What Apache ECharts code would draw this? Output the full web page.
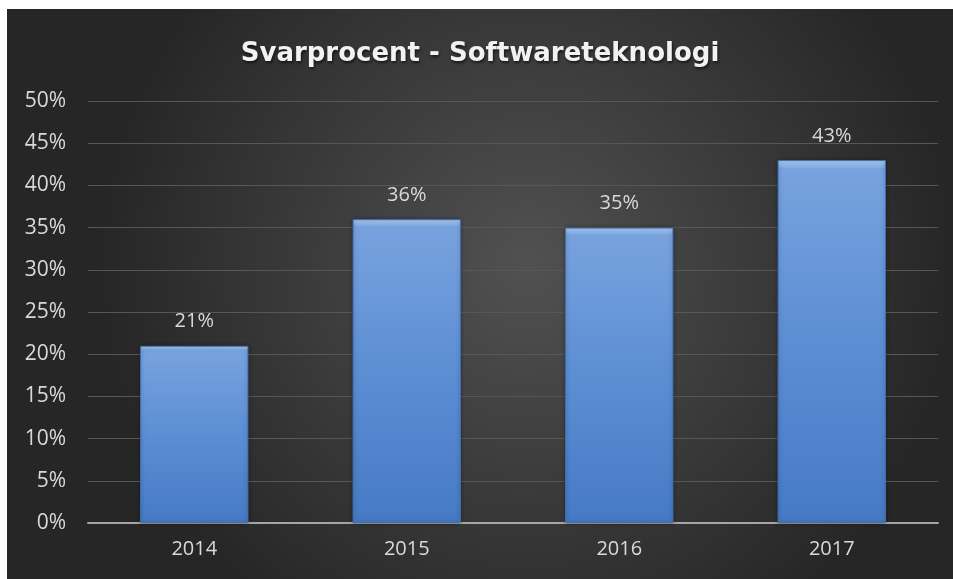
<!DOCTYPE html>
<html>
<head>
<meta charset="utf-8">
<script src="https://cdn.jsdelivr.net/npm/echarts@6/dist/echarts.min.js"></script>
<style>
  body { margin: 0; background: #ffffff; }
  #chart { position: absolute; left: 7px; top: 9px; width: 946px; height: 570px; }
</style>
</head>
<body>
<div id="chart"></div>
<script>
// Data
const years = ['2014', '2015', '2016', '2017'];
const responseRate = [21, 36, 35, 43];
const yTicks = [0, 5, 10, 15, 20, 25, 30, 35, 40, 45, 50];

const labelColor = '#d9d9d9';
const font = '"Open Sans", "Noto Sans", sans-serif';

const myChart = echarts.init(document.getElementById('chart'));

const option = {
  backgroundColor: {
    type: 'radial', x: 0.55, y: 0.45, r: 0.75,
    colorStops: [
      { offset: 0, color: '#515151' },
      { offset: 1, color: '#262626' }
    ]
  },
  title: {
    text: 'Svarprocent - Softwareteknologi',
    left: 'center',
    top: 27,
    textStyle: {
      color: '#f2f2f2',
      fontFamily: '"DejaVu Sans", sans-serif',
      fontWeight: 'bold',
      fontSize: 26,
      textShadowColor: 'rgba(0,0,0,0.6)',
      textShadowBlur: 3,
      textShadowOffsetX: 1,
      textShadowOffsetY: 2
    }
  },
  grid: { left: 81, right: 15, top: 92, bottom: 56 },
  xAxis: {
    type: 'category',
    data: years,
    axisTick: { show: false },
    axisLine: { lineStyle: { color: '#a6a6a6', width: 2 } },
    axisLabel: { color: labelColor, fontFamily: font, fontSize: 20, margin: 16 }
  },
  yAxis: {
    type: 'value',
    min: yTicks[0],
    max: yTicks[yTicks.length - 1],
    interval: 5,
    axisLine: { show: false },
    axisTick: { show: false },
    axisLabel: {
      color: labelColor, fontFamily: font, fontSize: 21, margin: 22,
      formatter: v => v + '%'
    },
    splitLine: { lineStyle: { color: '#575757', width: 1 } }
  },
  series: [{
    type: 'bar',
    data: responseRate,
    barWidth: '51%',
    itemStyle: {
      color: {
        type: 'linear', x: 0, y: 0, x2: 0, y2: 1,
        colorStops: [
          { offset: 0, color: '#b0ccf2' },
          { offset: 0.025, color: '#78a2de' },
          { offset: 0.5, color: '#5c8ed4' },
          { offset: 1, color: '#467ac4' }
        ]
      },
      borderColor: '#3f6fb3',
      borderWidth: 1,
      shadowColor: 'rgba(0,0,0,0.35)',
      shadowBlur: 4
    },
    label: {
      show: true,
      position: 'top',
      distance: 14,
      color: labelColor,
      fontFamily: font,
      fontSize: 20,
      formatter: p => p.value + '%'
    }
  }]
};

myChart.setOption(option);
</script>
</body>
</html>
